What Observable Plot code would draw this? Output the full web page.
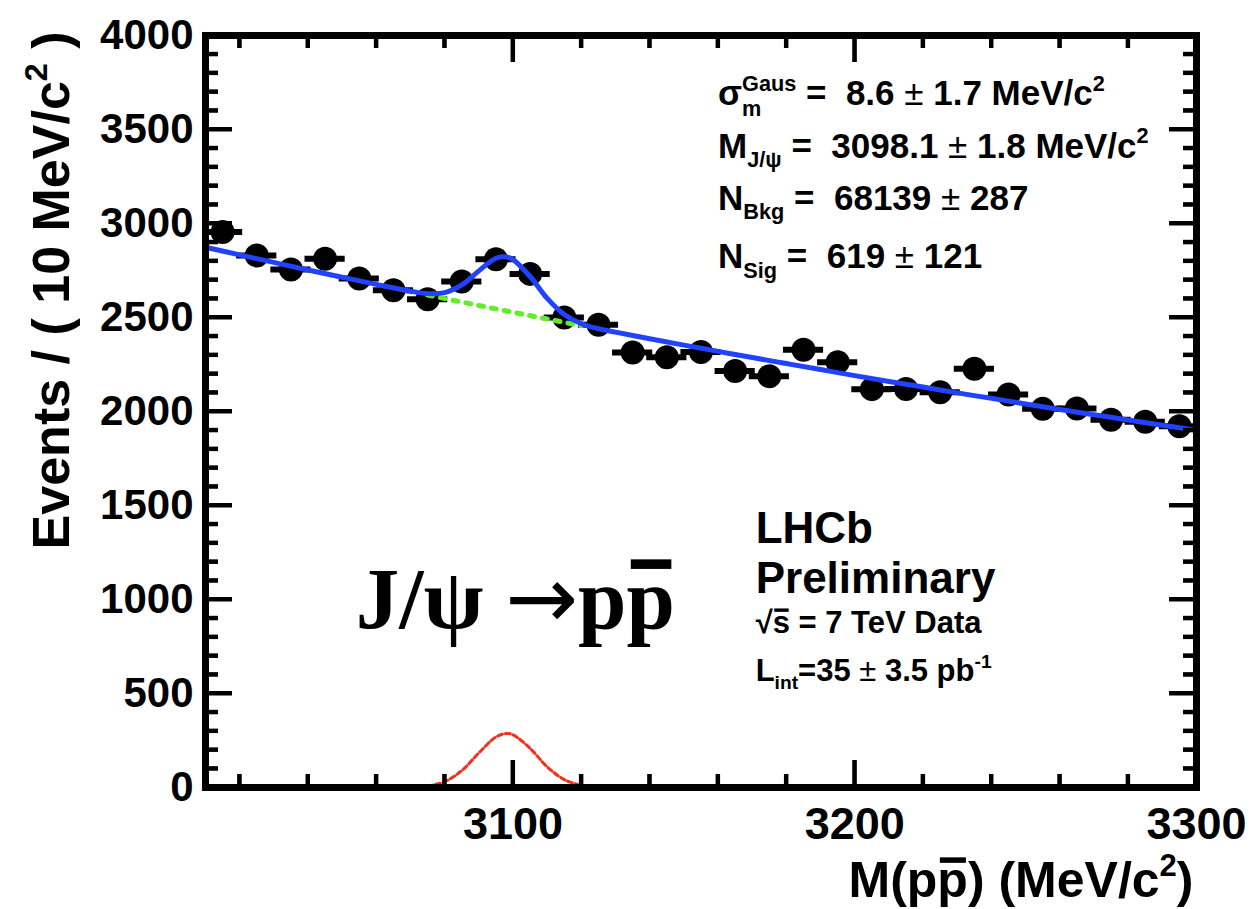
<!DOCTYPE html>
<html>
<head>
<meta charset="utf-8">
<script src="https://cdn.jsdelivr.net/npm/d3@7"></script>
<script src="https://cdn.jsdelivr.net/npm/@observablehq/plot@0.6"></script>
<style>
html, body { margin: 0; padding: 0; background: #fff; }
#chart { width: 1250px; height: 909px; }
svg text, svg tspan { white-space: pre; }
</style>
</head>
<body>
<div id="chart"></div>
<script>
// ---------- data ----------
const massBins = [3015, 3025, 3035, 3045, 3055, 3065, 3075, 3085, 3095, 3105,
                  3115, 3125, 3135, 3145, 3155, 3165, 3175, 3185, 3195, 3205,
                  3215, 3225, 3235, 3245, 3255, 3265, 3275, 3285, 3295];
const eventCounts = [2955, 2830, 2755, 2812, 2707, 2645, 2597, 2692, 2810, 2732,
                     2500, 2462, 2314, 2288, 2316, 2215, 2188, 2328, 2262, 2119,
                     2120, 2102, 2227, 2091, 2014, 2016, 1956, 1945, 1922];
const binHalfWidth = 5;

// total fit (blue)
const fitMass  = [3010, 3020, 3030, 3040, 3050, 3060, 3070, 3075, 3080, 3085, 3090, 3095, 3098,
                  3100, 3105, 3110, 3115, 3120, 3125, 3130, 3140, 3150, 3160, 3170, 3180, 3190,
                  3200, 3210, 3220, 3230, 3240, 3250, 3260, 3270, 3280, 3290, 3300];
const fitTotal = [2874, 2833, 2793, 2753, 2714, 2676, 2640, 2627, 2632, 2673, 2748, 2815, 2822,
                  2808, 2718, 2602, 2516, 2467, 2440, 2422, 2387, 2353, 2320, 2287, 2255, 2223,
                  2191, 2160, 2130, 2099, 2070, 2040, 2011, 1983, 1955, 1927, 1900];
// background component (green, dotted)
const bkgMass   = [3075, 3080, 3090, 3100, 3110, 3120];
const bkgValues = [2619, 2601, 2564, 2528, 2492, 2456];
// signal component (red, dashed)
const sigMass   = [3075, 3080, 3085, 3090, 3095, 3098, 3100, 3105, 3110, 3115, 3120];
const sigValues = [8, 31, 90, 184, 269, 287, 280, 208, 110, 42, 11];

// axes
const xDomain = [3010, 3300];
const yDomain = [0, 4000];
const xMajorTicks = [3100, 3200, 3300];
const xMinorTicks = [3020, 3040, 3060, 3080, 3120, 3140, 3160, 3180, 3220, 3240, 3260, 3280];
const yMajorTicks = [0, 500, 1000, 1500, 2000, 2500, 3000, 3500, 4000];
const yMinorTicks = [100, 200, 300, 400, 600, 700, 800, 900, 1100, 1200, 1300, 1400,
                     1600, 1700, 1800, 1900, 2100, 2200, 2300, 2400, 2600, 2700, 2800, 2900,
                     3100, 3200, 3300, 3400, 3600, 3700, 3800, 3900];

// texts  ({^..} superscript, {_..} subscript, {=_..} subscript stacked under superscript,
//         {~..} overbar, {!..} symbol glyph)
const fitResults = [
  "σ{^Gaus}{=_m} =  8.6 ± 1.7 MeV/c{^2}",
  "M{_J/ψ} =  3098.1 ± 1.8 MeV/c{^2}",
  "N{_Bkg} =  68139 ± 287",
  "N{_Sig} =  619 ± 121"
];
const lhcbLines = ["LHCb", "Preliminary", "√{~s} = 7 TeV Data", "L{_int}=35 ± 3.5 pb{^-1}"];
const decayLabel = "J/ψ {!→}p{~p}";
const xTitle = "M(p{~p}) (MeV/c{^2})";
const yTitle = "Events / ( 10 MeV/c{^2} )";

// ---------- layout ----------
const W = 1250, H = 909, mL = 205, mR = 54, mT = 35, mB = 122;
const majorLen = 27, minorLen = 13;
const pxPerX = (W - mL - mR) / (xDomain[1] - xDomain[0]);
const pxPerY = (H - mT - mB) / (yDomain[1] - yDomain[0]);

const points = massBins.map((m, i) => ({m, n: eventCounts[i]}));
const fitLine = fitMass.map((m, i) => ({m, v: fitTotal[i]}));
const bkgLine = bkgMass.map((m, i) => ({m, v: bkgValues[i]}));
const sigLine = sigMass.map((m, i) => ({m, v: sigValues[i]}));

const tickStyle = {stroke: "black", strokeWidth: 4};
const yTickMarks = (vals, len) => [
  Plot.ruleY(vals, {y: d => d, x1: xDomain[0], x2: xDomain[0] + len / pxPerX, ...tickStyle}),
  Plot.ruleY(vals, {y: d => d, x1: xDomain[1] - len / pxPerX, x2: xDomain[1], ...tickStyle})
];
const xTickMarks = (vals, len) => [
  Plot.ruleX(vals, {x: d => d, y1: yDomain[0], y2: yDomain[0] + len / pxPerY, ...tickStyle}),
  Plot.ruleX(vals, {x: d => d, y1: yDomain[1] - len / pxPerY, y2: yDomain[1], ...tickStyle})
];
const label = (str, opts) => Plot.text([str], {text: d => d, ...opts});

const chart = Plot.plot({
  width: W,
  height: H,
  marginLeft: mL,
  marginRight: mR,
  marginTop: mT,
  marginBottom: mB,
  style: {background: "white", fontFamily: "'Liberation Sans', Arial, Helvetica, sans-serif", fontWeight: "bold", overflow: "visible"},
  x: {domain: xDomain, label: null},
  y: {domain: yDomain, label: null},
  marks: [
    Plot.ruleY(points, {y: "n", x1: d => d.m - binHalfWidth, x2: d => d.m + binHalfWidth, stroke: "black", strokeWidth: 6, strokeLinecap: "square"}),
    Plot.dot(points, {x: "m", y: "n", r: 12, fill: "black", stroke: "none"}),
    Plot.line(bkgLine, {x: "m", y: "v", stroke: "#62ec2a", strokeWidth: 5, strokeDasharray: "5,8", curve: "catmull-rom"}),
    Plot.line(fitLine, {x: "m", y: "v", stroke: "#2142ff", strokeWidth: 5, curve: "catmull-rom"}),
    Plot.line(sigLine, {x: "m", y: "v", stroke: "#f4301c", strokeWidth: 3, strokeDasharray: "5,3", curve: "catmull-rom"}),
    Plot.axisY(yMajorTicks, {anchor: "left", tickSize: 0, tickPadding: 12, fontSize: 42, label: null, tickFormat: d => String(d)}),
    Plot.axisX(xMajorTicks, {anchor: "bottom", tickSize: 0, tickPadding: 20, fontSize: 45, label: null, tickFormat: d => String(d)}),
    ...yTickMarks(yMajorTicks, majorLen),
    ...yTickMarks(yMinorTicks, minorLen),
    ...xTickMarks(xMajorTicks, majorLen),
    ...xTickMarks(xMinorTicks, minorLen),
    Plot.frame({stroke: "black", strokeWidth: 7}),
    // fit results
    label(fitResults[0], {x: 3160, y: 3628, textAnchor: "start", lineAnchor: "bottom", fontSize: 35}),
    label(fitResults[1], {x: 3160, y: 3351, textAnchor: "start", lineAnchor: "bottom", fontSize: 35}),
    label(fitResults[2], {x: 3160, y: 3074, textAnchor: "start", lineAnchor: "bottom", fontSize: 35}),
    label(fitResults[3], {x: 3160, y: 2761, textAnchor: "start", lineAnchor: "bottom", fontSize: 35}),
    // LHCb block
    label(lhcbLines[0], {x: 3171, y: 1298, textAnchor: "start", lineAnchor: "bottom", fontSize: 44}),
    label(lhcbLines[1], {x: 3171, y: 1032, textAnchor: "start", lineAnchor: "bottom", fontSize: 44}),
    label(lhcbLines[2], {x: 3171, y: 824, textAnchor: "start", lineAnchor: "bottom", fontSize: 31}),
    label(lhcbLines[3], {x: 3171, y: 569, textAnchor: "start", lineAnchor: "bottom", fontSize: 31}),
    // decay label
    label(decayLabel, {x: 3054, y: 851, textAnchor: "start", lineAnchor: "bottom", fontSize: 87, fontFamily: "'Liberation Serif', 'Times New Roman', serif"}),
    // axis titles
    label(xTitle, {frameAnchor: "bottom-right", textAnchor: "end", lineAnchor: "bottom", dy: 109, dx: -3, fontSize: 50}),
    label(yTitle, {frameAnchor: "top-left", rotate: -90, textAnchor: "end", lineAnchor: "bottom", dx: -137, dy: -4, fontSize: 52})
  ]
});
document.getElementById("chart").appendChild(chart);

const NS = "http://www.w3.org/2000/svg";

// ---------- rich text (sub/superscripts, overbars, symbol glyphs) ----------
function enrich(svg) {
  svg.querySelectorAll("text").forEach(t => {
    const src = t.textContent;
    if (!/[{±]/.test(src)) return;
    const cs = getComputedStyle(t);
    const fs = parseFloat(cs.fontSize);
    const serif = /Serif|Times/i.test(cs.fontFamily);
    while (t.firstChild) t.removeChild(t.firstChild);
    let shift = 0, idx = 0, lastSup = null, pendingDx = 0;
    const bars = [];
    const add = (str, o = {}) => {
      const ts = document.createElementNS(NS, "tspan");
      ts.textContent = str;
      const target = o.shift || 0;
      const dy = target - shift;
      if (dy) ts.setAttribute("dy", dy);
      shift = target;
      const dx = (o.dx || 0) + pendingDx; pendingDx = 0;
      if (dx) ts.setAttribute("dx", dx);
      if (o.size) ts.setAttribute("font-size", o.size);
      if (o.weight) ts.setAttribute("font-weight", o.weight);
      if (o.family) ts.setAttribute("font-family", o.family);
      t.appendChild(ts);
      const start = idx; idx += str.length;
      return {ts, start};
    };
    const re = /\{(\^|_|=_|~|!)([^}]*)\}|([^{]+)/g;
    let m;
    while ((m = re.exec(src))) {
      if (m[3] !== undefined) {
        m[3].split(/(±)/).forEach(p => { if (p) add(p, p === "±" ? {weight: "normal"} : {}); });
        lastSup = null;
      } else if (m[1] === "^") {
        lastSup = add(m[2], {shift: -0.42 * fs, size: 0.62 * fs}).ts;
      } else if (m[1] === "_") {
        add(m[2], {shift: 0.26 * fs, size: 0.62 * fs}); lastSup = null;
      } else if (m[1] === "=_") {
        const w = lastSup ? lastSup.getComputedTextLength() : 0;
        const r = add(m[2], {shift: 0.3 * fs, size: 0.62 * fs, dx: -w});
        const w2 = r.ts.getComputedTextLength();
        if (w > w2) pendingDx = w - w2;
        lastSup = null;
      } else if (m[1] === "!") {
        add(m[2], {family: "'DejaVu Sans', sans-serif", weight: "normal"}); lastSup = null;
      } else {
        const r = add(m[2]);
        bars.push([r.start, m[2].length]);
        lastSup = null;
      }
    }
    bars.forEach(([start, len]) => {
      try {
        const e1 = t.getExtentOfChar(start);
        const e2 = t.getExtentOfChar(start + len - 1);
        const baseline = e1.y + e1.height * 0.81;
        const b = serif ? 0.68 : 0.72, th = serif ? 0.11 : 0.07;
        const rect = document.createElementNS(NS, "rect");
        rect.setAttribute("x", e1.x + 0.05 * fs);
        rect.setAttribute("width", Math.max(1, Math.min(0.6 * fs * len, e2.x + e2.width - e1.x - 0.09 * fs)));
        rect.setAttribute("y", baseline - (b + th) * fs);
        rect.setAttribute("height", th * fs);
        rect.setAttribute("fill", "black");
        const tr = t.getAttribute("transform");
        if (tr) rect.setAttribute("transform", tr);
        t.parentNode.insertBefore(rect, t.nextSibling);
      } catch (e) { /* leave text without bar */ }
    });
  });
}
try { enrich(chart); } catch (e) { /* keep plain text */ }

// ---------- inward ticks on all four sides as filled bars, placed with the chart's own scales ----------
(function drawTicks(svg) {
  const sx = svg.scale("x"), sy = svg.scale("y");
  const X0 = sx.apply(xDomain[0]), X1 = sx.apply(xDomain[1]);
  const Y0 = sy.apply(yDomain[0]), Y1 = sy.apply(yDomain[1]);
  const th = 4;
  const g = document.createElementNS(NS, "g");
  g.setAttribute("aria-label", "frame ticks");
  g.setAttribute("fill", "#000");
  const bar = (x, y, w, h) => {
    const r = document.createElementNS(NS, "rect");
    r.setAttribute("x", x); r.setAttribute("y", y);
    r.setAttribute("width", w); r.setAttribute("height", h);
    r.setAttribute("style", "fill:#000;stroke:none");
    g.appendChild(r);
  };
  const yt = (vals, len) => vals.forEach(v => { const y = sy.apply(v); bar(X0, y - th / 2, len, th); bar(X1 - len, y - th / 2, len, th); });
  const xt = (vals, len) => vals.forEach(v => { const x = sx.apply(v); bar(x - th / 2, Y0 - len, th, len); bar(x - th / 2, Y1, th, len); });
  yt(yMajorTicks, majorLen); yt(yMinorTicks, minorLen);
  xt(xMajorTicks, majorLen); xt(xMinorTicks, minorLen);
  svg.appendChild(g);
})(chart);
</script>
</body>
</html>
